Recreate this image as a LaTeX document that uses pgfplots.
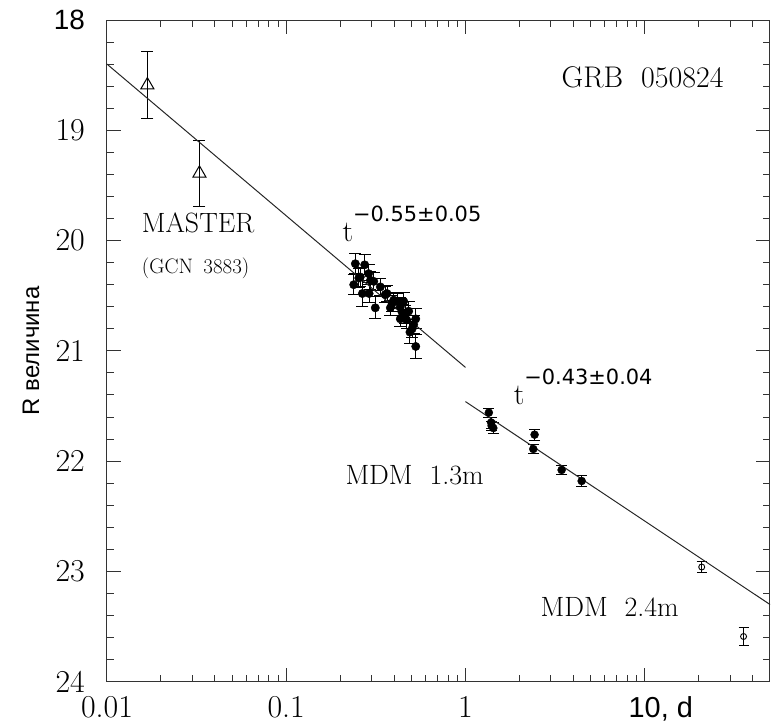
\documentclass[border=0pt]{standalone}
\usepackage{pgfplots}
\pgfplotsset{compat=1.18}
\usepackage{fontspec}
\newfontfamily\arial{Liberation Sans}
\newfontfamily\dejavu{DejaVu Sans}
\newcommand{\tk}{\fontsize{32}{32}\selectfont}
\newcommand{\ak}{\arial\fontsize{28}{28}\selectfont}
\newcommand{\tx}{\fontsize{28}{28}\selectfont}
\begin{document}
\begin{tikzpicture}
\path[use as bounding box] (-107bp,-43.3bp) rectangle (670bp,681.7bp);
\begin{axis}[
  at={(0,0)}, anchor=south west,
  xmode=log, y dir=reverse,
  xmin=0.01, xmax=50, ymin=18, ymax=24,
  width=663bp, height=661.7bp, scale only axis,
  axis line style={line width=1bp, black!80},
  every tick/.style={line width=1bp, black!80},
  tick align=inside,
  major tick length=14bp, minor tick length=7bp,
  xtick={0.01,0.1,1,10},
  xticklabels={{\tk 0.01},{\tk 0.1},{\tk 1},{\arial\fontsize{29}{29}\selectfont 10\rlap{, d}}},
  minor xtick={0.02,0.03,0.04,0.05,0.06,0.07,0.08,0.09,0.2,0.3,0.4,0.5,0.6,0.7,0.8,0.9,2,3,4,5,6,7,8,9,20,30,40},
  ytick={18,19,20,21,22,23,24},
  yticklabels={{\ak 18},{\tk 19},{\tk 20},{\tk 21},{\tk 22},{\tk 23},{\tk 24}},
  minor y tick num=4,
  xticklabel style={anchor=base, inner sep=0pt, yshift=-36bp},
  yticklabel style={anchor=east, inner sep=0pt, xshift=-22bp},
  ylabel={\arial\fontsize{24}{24}\selectfont R величина},
  ylabel style={at={(axis description cs:-0.1146,0.5)}, anchor=center, inner sep=0pt},
  clip=false,
  error bars/error bar style={line width=1bp, black},
]
% MASTER
\addplot[only marks, mark=triangle, mark size=7.5bp, mark options={line width=1bp, black},
  error bars/.cd, y dir=both, y explicit, error mark options={line width=1bp, black, mark size=6bp, rotate=90}]
coordinates {
(0.0168,18.59) +- (0,0.30)
(0.0328,19.39) +- (0,0.30)
};
% cluster
\addplot[only marks, mark=*, mark size=4.2bp, mark options={black, fill=black},
  error bars/.cd, y dir=both, y explicit, error mark options={line width=1bp, black, mark size=6bp, rotate=90}]
coordinates {
(0.243,20.21) +- (0,0.09)
(0.274,20.22) +- (0,0.09)
(0.238,20.40) +- (0,0.09)
(0.254,20.34) +- (0,0.09)
(0.259,20.33) +- (0,0.09)
(0.266,20.48) +- (0,0.12)
(0.288,20.30) +- (0,0.08)
(0.295,20.36) +- (0,0.08)
(0.290,20.48) +- (0,0.08)
(0.314,20.61) +- (0,0.10)
(0.308,20.37) +- (0,0.08)
(0.335,20.42) +- (0,0.08)
(0.357,20.49) +- (0,0.07)
(0.365,20.48) +- (0,0.07)
(0.381,20.61) +- (0,0.07)
(0.390,20.57) +- (0,0.07)
(0.398,20.54) +- (0,0.07)
(0.415,20.55) +- (0,0.07)
(0.433,20.60) +- (0,0.08)
(0.452,20.55) +- (0,0.08)
(0.462,20.67) +- (0,0.08)
(0.482,20.64) +- (0,0.09)
(0.470,20.72) +- (0,0.08)
(0.504,20.80) +- (0,0.08)
(0.528,20.71) +- (0,0.09)
(0.490,20.83) +- (0,0.10)
(0.514,20.76) +- (0,0.08)
(0.528,20.96) +- (0,0.11)
(0.433,20.71) +- (0,0.07)
(0.443,20.65) +- (0,0.07)
};
% MDM 1.3m
\addplot[only marks, mark=*, mark size=4bp, mark options={black, fill=black},
  error bars/.cd, y dir=both, y explicit, error mark options={line width=1bp, black, mark size=5.5bp, rotate=90}]
coordinates {
(1.35,21.56) +- (0,0.04)
(1.39,21.65) +- (0,0.05)
(1.43,21.70) +- (0,0.05)
(1.40,21.68) +- (0,0.04)
(2.43,21.76) +- (0,0.05)
(2.39,21.89) +- (0,0.04)
(3.44,22.08) +- (0,0.04)
(4.45,22.18) +- (0,0.05)
};
% MDM 2.4m
\addplot[only marks, mark=o, mark size=3bp, mark options={line width=0.9bp, black},
  error bars/.cd, y dir=both, y explicit, error mark options={line width=1bp, black, mark size=5bp, rotate=90}]
coordinates {
(20.8,22.96) +- (0,0.05)
(35.6,23.59) +- (0,0.08)
};
% fits
\addplot[no marks, line width=1bp, black!85] coordinates {(0.01,18.40) (1.0,21.15)};
\addplot[no marks, line width=1bp, black!85] coordinates {(1.0,21.46) (50,23.30)};
% labels
\node[anchor=base east, inner sep=0pt] at (axis cs:27.6,18.61) {\fontsize{30}{30}\selectfont GRB\ \ 050824};
\node[anchor=base west, inner sep=0pt] at (axis cs:0.01563,19.93) {\tx MASTER};
\node[anchor=base west, inner sep=0pt] at (axis cs:0.01563,20.30) {\fontsize{21}{21}\selectfont (GCN\hspace{0.5em}3883)};
\node[anchor=base west, inner sep=0pt] at (axis cs:0.2056,20.01) {\fontsize{30}{30}\selectfont t\raisebox{20bp}{\dejavu\fontsize{21}{21}\selectfont −0.55±0.05}};
\node[anchor=base west, inner sep=0pt] at (axis cs:1.855,21.49) {\fontsize{30}{30}\selectfont t\raisebox{20bp}{\dejavu\fontsize{21}{21}\selectfont −0.43±0.04}};
\node[anchor=base west, inner sep=0pt] at (axis cs:0.2136,22.21) {\tx MDM\ \ 1.3m};
\node[anchor=base west, inner sep=0pt] at (axis cs:2.62,23.41) {\tx MDM\ \ 2.4m};
\end{axis}
\end{tikzpicture}
\end{document}
